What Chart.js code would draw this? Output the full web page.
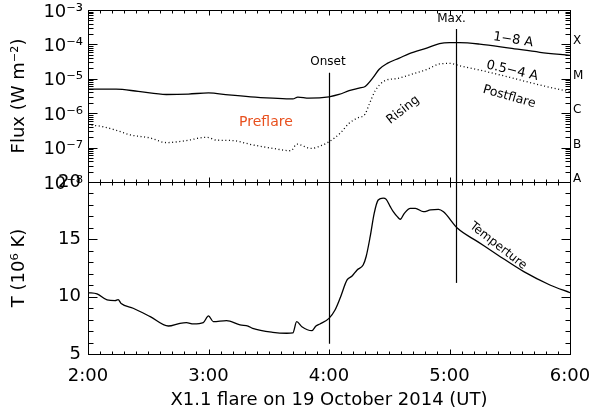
<!DOCTYPE html>
<html>
<head>
<meta charset="utf-8">
<script src="https://cdn.jsdelivr.net/npm/chart.js@4.4.0/dist/chart.umd.min.js"></script>
<style>
  html, body { margin: 0; padding: 0; background: #fff; }
  canvas { display: block; }
</style>
</head>
<body>
<canvas id="flare" width="594" height="415"></canvas>
<script>
// times are minutes after 00:00 UT, 19 Oct 2014
const softTimes = [120, 134, 145, 159, 170, 180, 190, 201, 212, 222, 224.5, 230, 240, 245, 250, 255, 258, 262, 265, 269, 275, 280, 289, 295, 300, 305, 315, 330, 345, 360];
const softFlux = [5.0e-6, 5.0e-6, 4.3e-6, 3.5e-6, 3.6e-6, 3.9e-6, 3.4e-6, 3.0e-6, 2.75e-6, 2.6e-6, 2.95e-6, 2.75e-6, 3.0e-6, 3.5e-6, 4.5e-6, 5.4e-6, 6.0e-6, 1.1e-5, 1.9e-5, 2.8e-5, 4.0e-5, 5.4e-5, 7.9e-5, 1.05e-4, 1.12e-4, 1.12e-4, 1.02e-4, 7.8e-5, 5.9e-5, 4.8e-5];

const hardTimes = [120, 127, 134, 141, 151, 159, 169, 179, 184, 192, 202, 212, 221, 224, 231, 237, 240, 245.5, 250, 254, 258, 260, 263, 268, 274, 280, 289, 295, 300, 305, 315, 330, 345, 360];
const hardFlux = [4.6e-7, 4.1e-7, 3.2e-7, 2.35e-7, 1.9e-7, 1.4e-7, 1.6e-7, 2.0e-7, 1.65e-7, 1.6e-7, 1.2e-7, 9.5e-8, 8.1e-8, 1.26e-7, 9.5e-8, 1.2e-7, 1.48e-7, 2.6e-7, 5.1e-7, 7.2e-7, 9.5e-7, 1.8e-6, 4.5e-6, 8.9e-6, 1.02e-5, 1.29e-5, 1.9e-5, 2.7e-5, 2.8e-5, 2.4e-5, 1.8e-5, 1.1e-5, 6.6e-6, 4.2e-6];

const tempTimes = [120, 124.5, 129.5, 133.5, 135, 136.5, 142.5, 151, 160, 165.8, 169, 172.5, 177.4, 180, 182.4, 189, 195.7, 199.7, 202, 212, 219, 222, 223.9, 226.5, 231.5, 233.5, 235.5, 240, 243, 245.5, 249, 251.5, 254, 257, 258.5, 260.5, 262.5, 264.5, 267, 268.5, 270.5, 272, 274, 275.5, 277.5, 280.5, 283, 287, 290.5, 294.5, 297, 304, 314, 324, 337, 350, 360];
const tempValues = [10.35, 10.24, 9.71, 9.65, 9.75, 9.40, 8.99, 8.26, 7.44, 7.68, 7.74, 7.62, 7.74, 8.32, 7.82, 7.91, 7.53, 7.44, 7.24, 6.89, 6.81, 6.84, 7.82, 7.38, 7.03, 7.44, 7.62, 8.11, 8.84, 9.86, 11.46, 11.8, 12.33, 12.76, 13.5, 15.23, 17.27, 18.43, 18.6, 18.49, 17.85, 17.41, 16.98, 16.75, 17.27, 17.70, 17.70, 17.41, 17.56, 17.62, 17.4, 15.96, 14.80, 13.64, 12.18, 11.02, 10.35];

const hourTicks = [120, 180, 240, 300, 360];
const fluxTicks = [1e-8, 1e-7, 1e-6, 1e-5, 1e-4, 1e-3];
const tempTicks = [5, 10, 15, 20];
const classLetters = ['A', 'B', 'C', 'M', 'X'];
const classFlux = [1e-8, 1e-7, 1e-6, 1e-5, 1e-4];

// onset and maximum markers: time, flux at top end, temperature at bottom end
const markerTimes = [240, 303];
const markerTopFlux = [1.5e-5, 2.8e-4];
const markerBottomTemp = [5.9, 11.2];

// text labels placed in data space
const notes = [
  { text: 'Max.', t: 301, axis: 'yF', v: 5.5e-4, angle: 0, size: 12, color: '#000' },
  { text: 'Onset', t: 239.5, axis: 'yF', v: 3.1e-5, angle: 0, size: 12, color: '#000' },
  { text: '1\u22128 A', t: 331.7, axis: 'yF', v: 1.35e-4, angle: 9, size: 13, color: '#000' },
  { text: '0.5\u22124 A', t: 331.2, axis: 'yF', v: 1.7e-5, angle: 13, size: 13, color: '#000' },
  { text: 'Postflare', t: 329.7, axis: 'yF', v: 3.0e-6, angle: 16, size: 12.5, color: '#000' },
  { text: 'Rising', t: 276.9, axis: 'yF', v: 1.23e-6, angle: -38, size: 12.5, color: '#000' },
  { text: 'Preflare', t: 208.6, axis: 'yF', v: 5.5e-7, angle: 0, size: 14, color: '#e8501e' },
  { text: 'Temperture', t: 324.2, axis: 'yT', v: 14.42, angle: 38, size: 12, color: '#000' }
];

const FONT = 'DejaVu Sans';
const SUP = { '-': '\u207B', '0': '\u2070', '1': '\u00B9', '2': '\u00B2', '3': '\u00B3', '4': '\u2074', '5': '\u2075', '6': '\u2076', '7': '\u2077', '8': '\u2078', '9': '\u2079' };
const sup = s => String(s).split('').map(c => SUP[c] || c).join('');

const toPoints = (ts, vs) => ts.map((t, i) => ({ x: t, y: vs[i] }));

function seg(ctx, x0, y0, x1, y1) {
  ctx.beginPath();
  ctx.moveTo(x0, y0);
  ctx.lineTo(x1, y1);
  ctx.stroke();
}

// IDL-style box: frame on each panel with inward ticks on all sides
const frameAndTicks = {
  id: 'frameAndTicks',
  afterDraw(chart) {
    const { ctx, scales: { x, yF, yT } } = chart;
    const L = Math.round(x.left) + 0.5, R = Math.round(x.right) + 0.5;
    ctx.save();
    ctx.strokeStyle = '#000';
    ctx.lineWidth = 1;
    [yF, yT].forEach(s => {
      const T = Math.round(s.top) + 0.5, B = Math.round(s.bottom) + 0.5;
      ctx.strokeRect(L, T, R - L, B - T);
      // time ticks: 6 min minor, 1 h major
      for (let m = 120; m <= 360; m += 6) {
        const px = Math.round(x.getPixelForValue(m)) + 0.5;
        const len = m % 60 === 0 ? 5 : 3;
        seg(ctx, px, T, px, T + len);
        seg(ctx, px, B, px, B - len);
      }
    });
    // flux axis ticks, both sides
    for (let e = -8; e <= -3; e++) {
      for (let k = 1; k <= 9; k++) {
        if (e === -3 && k > 1) break;
        const py = Math.round(yF.getPixelForValue(k * Math.pow(10, e))) + 0.5;
        const len = k === 1 ? 9 : 5;
        seg(ctx, L, py, L + len, py);
        seg(ctx, R, py, R - len, py);
      }
    }
    // temperature axis ticks, both sides
    for (let v = 5; v <= 20; v++) {
      const py = Math.round(yT.getPixelForValue(v)) + 0.5;
      const len = v % 5 === 0 ? 9 : 5;
      seg(ctx, L, py, L + len, py);
      seg(ctx, R, py, R - len, py);
    }

    // onset / max markers crossing both panels
    ctx.lineWidth = 1.2;
    markerTimes.forEach((t, i) => {
      const px = Math.round(x.getPixelForValue(t)) + 0.5;
      seg(ctx, px, yF.getPixelForValue(markerTopFlux[i]), px, yT.getPixelForValue(markerBottomTemp[i]));
    });

    // GOES class letters on the right axis
    ctx.fillStyle = '#000';
    ctx.font = '12px "' + FONT + '"';
    ctx.textAlign = 'left';
    ctx.textBaseline = 'alphabetic';
    classLetters.forEach((c, i) => {
      ctx.fillText(c, R + 2.5, yF.getPixelForValue(classFlux[i]));
    });

    // annotations
    ctx.textAlign = 'center';
    ctx.textBaseline = 'middle';
    notes.forEach(n => {
      const s = chart.scales[n.axis];
      ctx.save();
      ctx.translate(x.getPixelForValue(n.t), s.getPixelForValue(n.v));
      ctx.rotate(n.angle * Math.PI / 180);
      ctx.fillStyle = n.color;
      ctx.font = n.size + 'px "' + FONT + '"';
      ctx.fillText(n.text, 0, 0);
      ctx.restore();
    });
    ctx.restore();
  }
};

const axisFont = { family: FONT, size: 18 };
const noGrid = { display: false, drawTicks: false };

new Chart(document.getElementById('flare'), {
  type: 'line',
  data: {
    datasets: [
      { label: '1-8 A', data: toPoints(softTimes, softFlux), yAxisID: 'yF', borderColor: '#000', borderWidth: 1.3, pointRadius: 0, cubicInterpolationMode: 'monotone' },
      { label: '0.5-4 A', data: toPoints(hardTimes, hardFlux), yAxisID: 'yF', borderColor: '#000', borderWidth: 1.3, borderDash: [1, 2.6], pointRadius: 0, cubicInterpolationMode: 'monotone' },
      { label: 'Temperature', data: toPoints(tempTimes, tempValues), yAxisID: 'yT', borderColor: '#000', borderWidth: 1.3, pointRadius: 0, cubicInterpolationMode: 'monotone' }
    ]
  },
  options: {
    responsive: false,
    animation: false,
    devicePixelRatio: 1,
    layout: { padding: { left: 0, top: 10, right: 24, bottom: 0 } },
    plugins: { legend: { display: false }, tooltip: { enabled: false } },
    scales: {
      x: {
        type: 'linear', min: 120, max: 360, grid: noGrid, border: { display: false },
        afterBuildTicks: s => { s.ticks = hourTicks.map(v => ({ value: v })); },
        afterFit: s => { s.height = 61; s.paddingLeft = 0; s.paddingRight = 0; },
        ticks: { autoSkip: false, maxRotation: 0, padding: 12, color: '#000', font: axisFont, callback: v => Math.floor(v / 60) + ':00' },
        title: { display: true, text: 'X1.1 flare on 19 October 2014 (UT)', color: '#000', font: axisFont, padding: { top: 0, bottom: 4 } }
      },
      yT: {
        type: 'linear', position: 'left', stack: 'panels', stackWeight: 1, min: 5, max: 20, grid: noGrid, border: { display: false },
        afterBuildTicks: s => { s.ticks = tempTicks.map(v => ({ value: v })); },
        afterFit: s => { s.width = 88; s.paddingTop = 0; s.paddingBottom = 0; },
        ticks: { autoSkip: false, padding: 7, color: '#000', font: axisFont },
        title: { display: true, text: 'T (10' + sup(6) + ' K)', color: '#000', font: axisFont, padding: { top: 9, bottom: 0 } }
      },
      yF: {
        type: 'logarithmic', position: 'left', stack: 'panels', stackWeight: 1, min: 1e-8, max: 1e-3, grid: noGrid, border: { display: false },
        afterBuildTicks: s => { s.ticks = fluxTicks.map(v => ({ value: v })); },
        afterFit: s => { s.width = 88; s.paddingTop = 0; s.paddingBottom = 0; },
        ticks: { autoSkip: false, padding: 5, labelOffset: 2, color: '#000', font: axisFont, callback: v => '10' + sup(Math.round(Math.log10(v))) },
        title: { display: true, text: 'Flux (W m' + sup(-2) + ')', color: '#000', font: axisFont, padding: { top: 9, bottom: 0 } }
      }
    }
  },
  plugins: [frameAndTicks]
});
</script>
</body>
</html>
